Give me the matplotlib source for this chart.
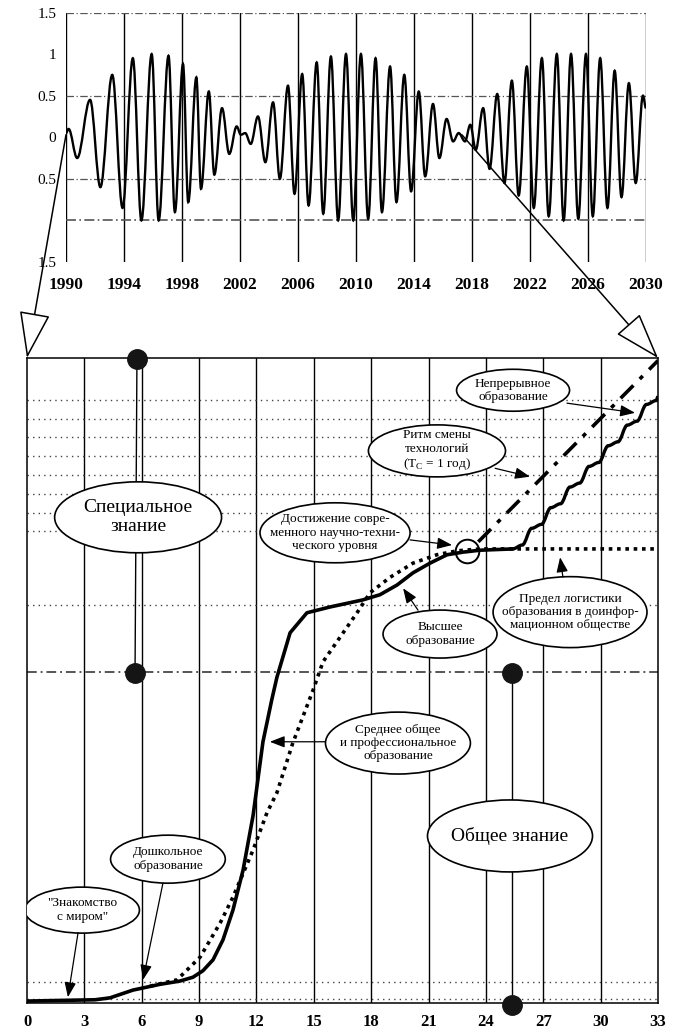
import matplotlib
matplotlib.use("Agg")
import matplotlib.pyplot as plt
from matplotlib.path import Path
from matplotlib.patches import PathPatch, Ellipse

plt.rcParams['font.family'] = ['Liberation Serif', 'DejaVu Serif']

# ---------------- top panel data (extrema of the oscillation) ----------------
wave_years = [1990.0, 1990.18, 1990.77, 1991.66, 1992.37, 1993.19, 1993.90, 1994.61, 1995.20,
              1995.91, 1996.39, 1997.07, 1997.51, 1998.07, 1998.43, 1998.99, 1999.31, 1999.85,
              2000.23, 2000.76, 2001.26, 2001.77, 2002.06, 2002.36, 2002.74, 2003.24, 2003.75,
              2004.28, 2004.75, 2005.31, 2005.76, 2006.29, 2006.73, 2007.29, 2007.74, 2008.27,
              2008.77, 2009.31, 2009.81, 2010.34, 2010.84, 2011.35, 2011.79, 2012.35, 2012.79,
              2013.33, 2013.80, 2014.33, 2014.77, 2015.31, 2015.75, 2016.25, 2016.70, 2017.08,
              2017.52, 2017.88, 2018.26, 2018.77, 2019.21, 2019.74, 2020.24, 2020.75, 2021.22,
              2021.78, 2022.26, 2022.82, 2023.29, 2023.85, 2024.32, 2024.83, 2025.33, 2025.86,
              2026.33, 2026.84, 2027.34, 2027.84, 2028.31, 2028.82, 2029.29, 2029.79, 2030.0]
wave_values = [0.05, 0.10, -0.25, 0.45, -0.60, 0.75, -0.85, 0.95, -1.00,
               1.00, -1.00, 0.98, -0.90, 0.88, -0.78, 0.72, -0.62, 0.55,
               -0.45, 0.35, -0.20, 0.13, 0.03, 0.05, -0.08, 0.25, -0.30,
               0.42, -0.50, 0.62, -0.68, 0.76, -0.82, 0.90, -0.92, 0.97,
               -1.00, 1.00, -1.00, 1.00, -0.98, 0.95, -0.90, 0.85, -0.78,
               0.75, -0.65, 0.55, -0.47, 0.40, -0.25, 0.22, -0.05, 0.05,
               -0.05, 0.15, -0.15, 0.35, -0.38, 0.52, -0.55, 0.68, -0.70,
               0.85, -0.85, 0.95, -0.95, 1.00, -1.00, 1.00, -0.98, 1.00,
               -0.95, 0.95, -0.85, 0.80, -0.72, 0.65, -0.55, 0.50, 0.35]
top_xticks = list(range(1990, 2031, 4))
top_yticks = [1.5, 1.0, 0.5, 0.0, -0.5, -1.5]
top_ytick_labels = ['1.5', '1', '0.5', '0', '0.5', '1.5']
top_hlines = [1.5, 0.5, -0.5, -1.0]

# ---------------- bottom panel data ----------------
solid_x = [0, 3.56, 4.34, 5.54, 6.96, 8.0, 8.68, 9.2, 9.73, 10.25, 10.77, 11.3, 11.82, 12.34,
           12.8, 13.07, 13.76, 14.64, 15.85, 17.57, 18.46, 19.35, 20.19, 21.08, 21.97, 22.8,
           23.69, 25.4]
solid_y = [0.3, 0.5, 0.8, 2.0, 2.9, 3.4, 4.0, 5.0, 6.7, 9.8, 14.4, 20.6, 29.0, 40.5,
           47.0, 50.5, 57.4, 60.5, 61.4, 62.5, 63.3, 64.8, 66.7, 68.2, 69.5, 69.9,
           70.2, 70.4]
stair_x = [25.4, 25.9, 26.4, 26.9, 27.4, 27.9, 28.4, 28.9, 29.4, 29.9, 30.4, 30.9, 31.4,
           31.9, 32.4, 32.9, 33.0]
stair_y = [70.4, 71.0, 73.6, 74.2, 76.8, 77.4, 80.0, 80.6, 83.2, 83.8, 86.4, 87.0, 89.6,
           90.2, 92.8, 93.4, 94.0]
logistic_x = [6.43, 7.85, 9.05, 10.1, 10.77, 11.82, 12.55, 13.07, 13.9, 14.96, 15.48, 16.37,
              17.26, 17.94, 18.99, 20.19, 21.44, 22.49, 23.69, 33.0]
logistic_y = [2.6, 3.6, 7.1, 12.4, 16.4, 23.7, 29.5, 32.6, 40.3, 48.5, 52.9, 56.7,
              60.5, 63.6, 66.0, 68.2, 69.5, 70.1, 70.4, 70.4]
continuous_x = [23.6, 33.0]
continuous_y = [71.5, 99.6]
bot_xticks = list(range(0, 34, 3))
bot_hdotted = [0.62, 3.26, 61.7, 73.2, 76.0, 78.9, 81.9, 84.8, 87.8, 90.5, 93.5]
dashdot_level = 51.3

# ellipse labels: text, centre x, centre y, width, height, fontsize
labels = [
    ("Специальное\nзнание", 5.81, 75.3, 8.73, 11.0, 14),
    ("Достижение совре-\nменного научно-техни-\nческого уровня", 16.11, 72.9, 7.85, 9.3, 9.5),
    ("Непрерывное\nобразование", 25.42, 95.0, 5.91, 6.5, 9.5),
    ("Ритм смены\nтехнологий\n(T$_\\mathregular{C}$ = 1 год)", 21.44, 85.6, 7.17, 8.06, 9.5),
    ("Предел логистики\nобразования в доинфор-\nмационном обществе", 28.4, 60.6, 8.05, 11.0, 9.5),
    ("Высшее\nобразование", 21.6, 57.2, 5.96, 7.44, 9.5),
    ("Среднее общее\nи профессиональное\nобразование", 19.4, 40.3, 7.58, 9.6, 9.5),
    ("Общее знание", 25.26, 25.9, 8.63, 11.16, 14),
    ("Дошкольное\nобразование", 7.37, 22.3, 6.0, 7.44, 9.5),
    ("\"Знакомство\nс миром\"", 2.88, 14.4, 6.0, 7.13, 9.5),
]
# arrows: (from x, from y, to x, to y)
arrows = [
    (28.24, 93.0, 31.8, 91.5),
    (24.48, 82.9, 26.3, 81.6),
    (20.03, 71.8, 22.23, 71.0),
    (28.03, 66.0, 27.88, 69.1),
    (20.45, 60.9, 19.67, 64.3),
    (15.59, 40.5, 12.7, 40.5),
    (7.11, 18.6, 6.07, 3.6),
    (2.67, 10.9, 2.14, 0.9),
]
dots_x = [5.75, 5.65, 25.37, 25.37]
dots_y = [99.8, 51.2, 51.2, -0.3]


def smooth_path(xs, ys, k=0.363):
    """Bezier path through the given points with flat tangents at each point."""
    verts = [(xs[0], ys[0])]
    codes = [Path.MOVETO]
    for i in range(1, len(xs)):
        x0, y0, x1, y1 = xs[i - 1], ys[i - 1], xs[i], ys[i]
        d = x1 - x0
        verts += [(x0 + k * d, y0), (x1 - k * d, y1), (x1, y1)]
        codes += [Path.CURVE4] * 3
    return Path(verts, codes)


W, H = 673, 1031
fig = plt.figure(figsize=(W / 100, H / 100), dpi=100)
fig.patch.set_facecolor('white')

# ---------------- top panel ----------------
ax_t = fig.add_axes([66 / W, 1 - 262 / H, (646 - 66) / W, (262 - 12.5) / H])
ax_t.set_xlim(1990, 2030)
ax_t.set_ylim(-1.5, 1.5)
for s in ax_t.spines.values():
    s.set_visible(False)
for yr in top_xticks:
    ax_t.axvline(yr, color='black', lw=1.0, zorder=1)
for hv in top_hlines:
    ax_t.axhline(hv, color='#555555', lw=1.2 if hv == -1.0 else 0.9,
                 linestyle=(0, (6, 2, 1, 2)), zorder=1)
ax_t.add_patch(PathPatch(smooth_path(wave_years, wave_values), fill=False, ec='black',
                         lw=1.7, zorder=3))
ax_t.set_xticks(top_xticks)
ax_t.set_xticklabels([str(y) for y in top_xticks], fontsize=12.5, fontweight='bold')
ax_t.set_yticks(top_yticks)
ax_t.set_yticklabels(top_ytick_labels, fontsize=11)
ax_t.tick_params(axis='x', length=0, pad=11)
ax_t.tick_params(axis='y', length=0, pad=7)

# ---------------- bottom panel ----------------
ax_b = fig.add_axes([27 / W, 1 - 1003 / H, (658 - 27) / W, (1003 - 358) / H])
ax_b.set_xlim(0, 33)
ax_b.set_ylim(0, 100)
for s in ax_b.spines.values():
    s.set_color('black')
    s.set_linewidth(1.1)
for xv in bot_xticks[1:-1]:
    ax_b.axvline(xv, color='black', lw=1.0, zorder=1)
for hv in bot_hdotted:
    ax_b.axhline(hv, color='#444444', lw=1.0, linestyle=(0, (1, 3)), zorder=1)
ax_b.axhline(dashdot_level, color='#555555', lw=1.4, linestyle=(0, (5, 2, 1, 2)), zorder=1)

# bracket connectors
ax_b.plot([dots_x[0], dots_x[1]], [dots_y[0], dots_y[1]], color='black', lw=1.0, zorder=1)
ax_b.plot([dots_x[2], dots_x[3]], [dots_y[2], dots_y[3]], color='black', lw=1.0, zorder=1)

# curves
ax_b.plot(logistic_x, logistic_y, color='black', lw=2.6, linestyle=(0, (1, 1.3)),
          zorder=4)
ax_b.plot(continuous_x, continuous_y, color='black', lw=2.6,
          linestyle=(0, (5, 2.5, 1.2, 2.5)), zorder=4)
ax_b.plot(solid_x, solid_y, color='black', lw=2.6, zorder=5, solid_capstyle='round')
ax_b.add_patch(PathPatch(smooth_path(stair_x, stair_y), fill=False, ec='black', lw=2.4,
                         zorder=5))

# circle at the reached level
ax_b.plot([23.0], [70.1], marker='o', markersize=17, mfc='none', mec='black', mew=1.4,
          zorder=6)

# ellipses with labels
for text, cx, cy, w, h, fs in labels:
    ax_b.add_patch(Ellipse((cx, cy), w, h, fc='white', ec='black', lw=1.2, zorder=7))
    ax_b.text(cx, cy, text, ha='center', va='center', fontsize=fs, zorder=8,
              linespacing=1.15)

for x0, y0, x1, y1 in arrows:
    ax_b.annotate('', xy=(x1, y1), xytext=(x0, y0),
                  arrowprops=dict(arrowstyle='-|>,head_length=0.9,head_width=0.35',
                                  color='black', lw=0.9, shrinkA=0, shrinkB=0),
                  zorder=9)

ax_b.plot(dots_x, dots_y, 'o', color='#151515', markersize=14, zorder=10, clip_on=False)

ax_b.set_xticks(bot_xticks)
ax_b.set_xticklabels([str(v) for v in bot_xticks], fontsize=12, fontweight='bold')
ax_b.set_yticks([])
ax_b.tick_params(axis='x', length=0, pad=8)

# zoom arrows from the upper chart to the lower chart
for x_top, x_bot in [(1990.0, 0), (2017.3, 33)]:
    ax_b.annotate('', xy=(x_bot, 100), xycoords=ax_b.transData,
                  xytext=(x_top, 0.03), textcoords=ax_t.transData,
                  arrowprops=dict(arrowstyle='-|>,head_length=3.0,head_width=1.0',
                                  fc='white', ec='black', lw=1.1, shrinkA=0, shrinkB=0,
                                  mutation_scale=10),
                  annotation_clip=False, zorder=11)

fig.savefig('out.png', dpi=100, facecolor='white')
